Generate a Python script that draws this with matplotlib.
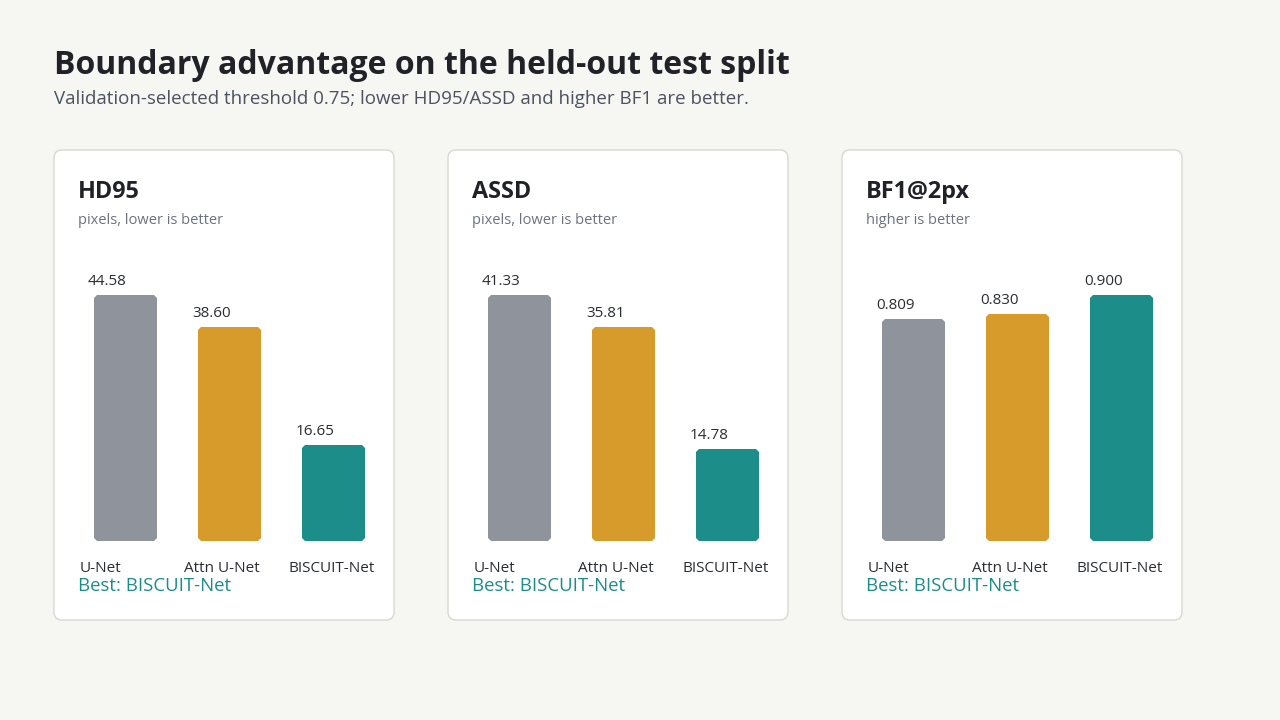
import matplotlib.pyplot as plt
from matplotlib.patches import FancyBboxPatch

plt.rcParams['font.family'] = ['Open Sans', 'DejaVu Sans']

# data
models = ["U-Net", "Attn U-Net", "BISCUIT-Net"]
metrics = ["HD95", "ASSD", "BF1@2px"]
units = ["pixels, lower is better", "pixels, lower is better", "higher is better"]
hd95 = [44.58, 38.60, 16.65]
assd = [41.33, 35.81, 14.78]
bf1 = [0.809, 0.830, 0.900]
value_labels = [["44.58", "38.60", "16.65"],
                ["41.33", "35.81", "14.78"],
                ["0.809", "0.830", "0.900"]]
best = ["BISCUIT-Net", "BISCUIT-Net", "BISCUIT-Net"]

title = "Boundary advantage on the held-out test split"
subtitle = "Validation-selected threshold 0.75; lower HD95/ASSD and higher BF1 are better."

bg = "#f6f6f2"
colors = ["#8f939c", "#d69b2b", "#1c8d89"]
teal = "#1c8d89"

W, H = 1280, 720
fig = plt.figure(figsize=(12.8, 7.2), dpi=100, facecolor=bg)

# background axes in pixel coordinates
bgax = fig.add_axes([0, 0, 1, 1])
bgax.set_xlim(0, W)
bgax.set_ylim(H, 0)
bgax.axis("off")

bgax.text(54, 65, title, fontsize=23, fontweight="bold", color="#202228",
          ha="left", va="center")
bgax.text(54, 99, subtitle, fontsize=13.5, color="#4b5361", ha="left", va="center")

card_x = [54, 448, 842]
card_w, card_top, card_bot = 340, 150, 620
bar_w_px = 63
step_px = 104
edge_px = 6
base_px = 541 - edge_px / 2
top_px = 295 + edge_px / 2

for k, vals in enumerate([hd95, assd, bf1]):
    cx = card_x[k]
    bgax.add_patch(FancyBboxPatch((cx, card_top), card_w, card_bot - card_top,
                                  boxstyle="round,pad=0,rounding_size=8",
                                  facecolor="white", edgecolor="#d9d9d2", lw=1))
    bgax.text(cx + 24, 192, metrics[k], fontsize=16.8, fontweight="bold",
              color="#202228", ha="left", va="center")
    bgax.text(cx + 24, 221, units[k], fontsize=10.5, color="#6b7280",
              ha="left", va="center")
    bgax.text(cx + 24, 586, "Best: " + best[k], fontsize=13.4, color=teal,
              ha="left", va="center")

    # bar axes
    first_c = cx + 40 + bar_w_px / 2
    left = first_c - step_px / 2
    ax = fig.add_axes([left / W, 1 - base_px / H, 3 * step_px / W,
                       (base_px - top_px) / H])
    ax.set_xlim(-0.5, 2.5)
    ax.set_ylim(0, max(vals))
    ax.axis("off")
    w = bar_w_px / step_px
    bars = ax.bar(range(3), vals, width=(bar_w_px - edge_px) / step_px,
                  color=colors, edgecolor=colors, linewidth=edge_px * 0.72,
                  clip_on=False)
    for b in bars:
        b.set_joinstyle("bevel")
    for i, v in enumerate(vals):
        ax.annotate(value_labels[k][i], (i - w / 2, v), xytext=(-6 * 0.72, 9 * 0.72),
                    textcoords="offset points", ha="left", va="bottom",
                    fontsize=11, color="#2a2d33", annotation_clip=False)
        ax.annotate(models[i], (i - w / 2, 0), xytext=(-14 * 0.72, -30 * 0.72),
                    textcoords="offset points", ha="left", va="center",
                    fontsize=11, color="#2a2d33", annotation_clip=False)

fig.savefig("out.png", dpi=100, facecolor=bg)
